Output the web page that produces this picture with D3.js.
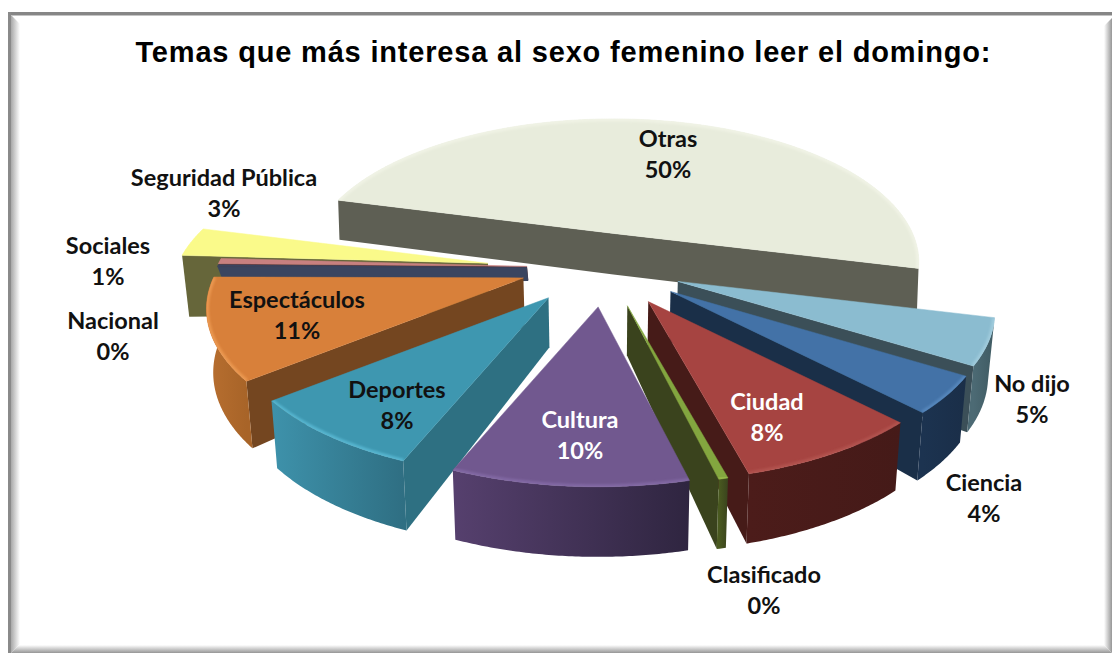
<!DOCTYPE html>
<html><head><meta charset="utf-8">
<script src="https://cdn.jsdelivr.net/npm/d3@7"></script>
<style>html,body{margin:0;padding:0;background:#fff;overflow:hidden}svg{display:block}</style>
</head><body><div id="chart"></div>
<script>
// ---- data (clockwise from the right-hand side of the pie)
const categories = ["No dijo","Ciencia","Ciudad","Clasificado","Cultura","Deportes","Espectáculos","Nacional","Sociales","Seguridad Pública","Otras"];
const values     = [5, 4, 8, 0.4, 10, 8, 11, 0.2, 0.6, 3.2, 50];
const percentLabels = ["5%","4%","8%","0%","10%","8%","11%","0%","1%","3%","50%"];
const title = "Temas que más interesa al sexo femenino leer el domingo:";

// ---- styles
const topColors  = ["#8bbcd0","#4372a7","#a64441","#83a63f","#71588f","#3e97b0","#d8803a","#3a4560","#c88080","#fafa8a","#e8ecdc"];
const faceColors = ["#3b4f58","#1a2f48","#461b18","#3a431d","#3a2c50","#2e7082","#744620","#3a4560","#5a3030","#66663a","#5e5f54"];
const rimFrom    = ["#4c6a74","#1c3350","#4c1c1a","#4a5a20","#56406e","#3e92ab","#b86f30","#3a4560","#5a3030","#66663a","#5e5f54"];
const rimTo      = ["#3f5a62","#1a2e48","#451a18","#3a431d","#2f2540","#2f6f83","#a86428","#3a4560","#5a3030","#66663a","#5e5f54"];
const bevelColors= ["#a9d2e2","#5f90c6","#b85a56","#a0c050","#8b70ad","#62c3de","#f5a35a","#3a4560","#c88080","#fafa8a","#f4f6ea"];
const labelColors= ["#111","#111","#fff","#111","#fff","#111","#111","#111","#111","#111","#111"];

// ---- layout
const W = 1112, H = 653;
const centre = {x:603, y:265}, pull = {x:78, y:42};
const explode = [1,1,1,1,1,1,1,1,1,1.48,0.85];
const nudge   = [[3,0],[7,0],[7,0],[5,0],[1,0],[-8,-1],[-6,-1],[2,3],[2,3],[-1,8],[-6,3]];
const radius  = [1,1,1,1,1,1,1,1,1,1,0.965];
const wallH   = [62,62,62,62,62,62,62,17,17,62,41];
const wallTaper = 0.2;
const persp = {A:310, B:142.5, k:0.208};
const labelXY = [[1032,384],[984,483],[767,402],[764,575],[580,420],[397,390],[297,300],[113,321],[108,246],[224,178],[668,139]];
const lineGap = 31;
const drawOrder = [10,9,8,7,0,1,6,2,5,3,4];

const svg = d3.select("#chart").append("svg").attr("width",W).attr("height",H);
const defs = svg.append("defs");

// ---- frame
function grad(id,x1,y1,x2,y2,stops){
  const g = defs.append("linearGradient").attr("id",id).attr("gradientUnits","userSpaceOnUse")
    .attr("x1",x1).attr("y1",y1).attr("x2",x2).attr("y2",y2);
  stops.forEach(s=>g.append("stop").attr("offset",s[0]).attr("stop-color",s[1]));
}
grad("fL",11,0,20,0,[[0,"#a8a8a8"],[1,"#ffffff"]]);
grad("fR",1104,0,1112,0,[[0,"#ffffff"],[1,"#969696"]]);
grad("fB",0,645,0,653,[[0,"#ffffff"],[1,"#969696"]]);
svg.append("polygon").attr("points","11,15 20,24 20,644 11,653").attr("fill","url(#fL)");
svg.append("polygon").attr("points","1112,18 1104,26 1104,645 1112,653").attr("fill","url(#fR)");
svg.append("polygon").attr("points","11,653 19,645 1104,645 1112,653").attr("fill","url(#fB)");
svg.append("rect").attr("x",8).attr("y",12).attr("width",W-8).attr("height",3).attr("fill","#868686");
svg.append("rect").attr("x",8).attr("y",15).attr("width",W-8).attr("height",1).attr("fill","#c4c4c4");
svg.append("rect").attr("x",8).attr("y",12).attr("width",3).attr("height",H-12).attr("fill","#8a8a8a");

// ---- title
svg.append("text").attr("x",563).attr("y",62).attr("text-anchor","middle")
  .attr("font-family","'Liberation Sans',Arial,sans-serif").attr("font-weight","bold")
  .attr("font-size",29).attr("textLength",855).attr("lengthAdjust","spacing").attr("fill","#000").text(title);

// ---- pie geometry
const slices = d3.pie().sort(null).value(d=>d)
  .startAngle(104*Math.PI/180).endAngle((104+360)*Math.PI/180)(values);
const phiOf = a => a - Math.PI/2;
function rimPoint(phi, r){
  const s = Math.sin(phi)*r, c = Math.cos(phi)*r, d = 1 - persp.k*s;
  return [persp.A*c/d, persp.B*s/d];
}
const line = d3.line();
const blur = defs.append("filter").attr("id","bevelBlur").attr("x","-10%").attr("y","-10%").attr("width","120%").attr("height","120%");
blur.append("feGaussianBlur").attr("stdDeviation",1.2);

const pieG = svg.append("g");
drawOrder.forEach(i=>{
  const sl = slices[i];
  const a0 = phiOf(sl.startAngle), a1 = phiOf(sl.endAngle), m = (a0+a1)/2;
  const ax = centre.x + pull.x*explode[i]*Math.cos(m) + nudge[i][0];
  const ay = centre.y + pull.y*explode[i]*Math.sin(m) + nudge[i][1];
  const R = radius[i];
  const straight = i === 10;
  const top = (phi,r)=>{ const p = rimPoint(phi,r*R); return [ax+p[0], ay+p[1]]; };
  const bottom = (phi,r)=>{
    const p = top(phi,r);
    const h = wallH[i]*(straight?1:(1-wallTaper*(1-r)))*(1+0.13*Math.sin(phi)*r);
    return [p[0]+(centre.x-p[0])*(straight?0.005:0.017), p[1]+h];
  };
  const g = pieG.append("g").attr("class","slice").attr("data-name",categories[i]);
  const sweep = d3.range(a0, a1, Math.PI/360).concat([a1]);

  // cut faces that look towards the viewer
  if (straight){
    const wall = [top(a0,1),top(a0,0),top(a1,1),bottom(a1,1),bottom(a0,0),bottom(a0,1)];
    g.append("path").attr("d",line(wall)+"Z").attr("fill",faceColors[i]);
  } else {
    const face = phi => [top(phi,0),top(phi,1),bottom(phi,1),bottom(phi,0)];
    if (Math.sin(a0-Math.PI/2) > 0) g.append("path").attr("d",line(face(a0))+"Z").attr("fill",faceColors[i]);
    if (Math.sin(a1+Math.PI/2) > 0) g.append("path").attr("d",line(face(a1))+"Z").attr("fill",faceColors[i]);
  }

  // outer curved wall (only the part facing the viewer)
  const vis = sweep.filter(p=>Math.sin(p) >= 0);
  if (vis.length > 1 && !straight){
    const tops = vis.map(p=>top(p,1)), bots = vis.map(p=>bottom(p,1)).reverse();
    const id = "rim"+i, xs = tops.map(p=>p[0]);
    grad(id, d3.min(xs), 0, d3.max(xs), 0,[[0,rimFrom[i]],[1,rimTo[i]]]);
    g.append("path").attr("d",line(tops.concat(bots))+"Z").attr("fill",`url(#${id})`);
  }

  // top surface
  const pts = [top(a0,0)].concat(sweep.map(p=>top(p,1)));
  const topD = line(pts)+"Z";
  g.append("path").attr("d",topD).attr("fill",topColors[i]).attr("stroke",topColors[i]).attr("stroke-width",0.5).attr("stroke-linejoin","round");

  // soft bevel along the rim
  const clipId = "clip"+i;
  defs.append("clipPath").attr("id",clipId).append("path").attr("d",topD);
  g.append("g").attr("clip-path",`url(#${clipId})`).append("path")
    .attr("d",line(sweep.map(p=>top(p,1)))).attr("fill","none").attr("stroke-opacity",0.65)
    .attr("stroke",bevelColors[i]).attr("stroke-width",5).attr("filter","url(#bevelBlur)");
});

// ---- labels
const labels = svg.append("g").attr("font-family","Lato,'Open Sans',sans-serif")
  .attr("font-weight","bold").attr("font-size",23.5).attr("text-anchor","middle");
categories.forEach((c,i)=>{
  const [x,y] = labelXY[i];
  labels.append("text").attr("x",x).attr("y",y+8).attr("fill",labelColors[i]).text(c);
  labels.append("text").attr("x",x).attr("y",y+8+lineGap).attr("fill",labelColors[i]).text(percentLabels[i]);
});
</script></body></html>
